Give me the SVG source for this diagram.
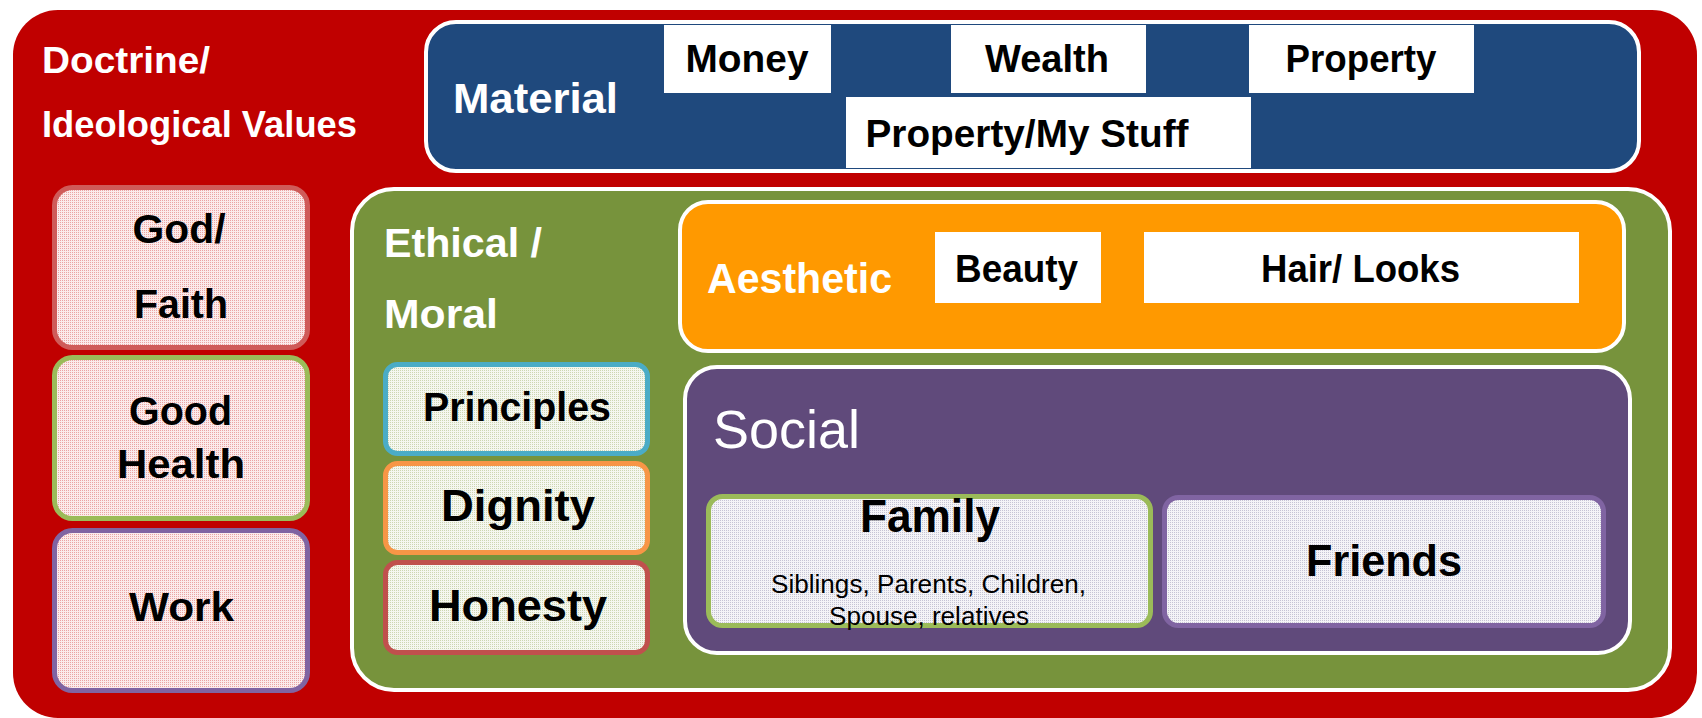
<svg xmlns="http://www.w3.org/2000/svg" width="1702" height="718" viewBox="0 0 1702 718">
<defs>
<pattern id="pinkDots" width="2" height="2" patternUnits="userSpaceOnUse"><rect width="2" height="2" fill="#FBEBEB"/><rect width="1" height="1" fill="#EBA3A3"/></pattern>
<pattern id="greenDots" width="2" height="2" patternUnits="userSpaceOnUse"><rect width="2" height="2" fill="#F5F7F0"/><rect width="1" height="1" fill="#CDD6B2"/></pattern>
<pattern id="lavDots" width="2" height="2" patternUnits="userSpaceOnUse"><rect width="2" height="2" fill="#F4F4F7"/><rect width="1" height="1" fill="#C6C3D4"/></pattern>
</defs>
<style>
.t{font-family:"Liberation Sans",Arial,sans-serif;font-weight:bold;}
.w{fill:#FFFFFF;}
.k{fill:#000000;}
.c{text-anchor:middle;}
.cont{stroke:#FFFFFF;stroke-width:4;}
.wb{fill:#FFFFFF;}
.pink{fill:url(#pinkDots);stroke-width:5;}
.grn{fill:url(#greenDots);stroke-width:5;}
.lav{fill:url(#lavDots);stroke-width:5;}
.reg{font-family:"Liberation Sans",Arial,sans-serif;font-weight:normal;}
</style>
<g id="doctrine">
<rect x="13" y="10" width="1684" height="708" rx="45" fill="#C00000"/>
<text class="t w" x="42" y="73" font-size="37" textLength="168" lengthAdjust="spacingAndGlyphs">Doctrine/</text>
<text class="t w" x="42" y="137" font-size="37" textLength="315" lengthAdjust="spacingAndGlyphs">Ideological Values</text>
</g>
<g id="material">
<rect class="cont" x="426" y="22" width="1213" height="149" rx="30" fill="#1F497D"/>
<text class="t w" x="453" y="113" font-size="43" textLength="165" lengthAdjust="spacingAndGlyphs">Material</text>
</g>
<g id="money">
<rect class="wb" x="664" y="25" width="167" height="68"/>
<text class="t k c" x="747" y="72" font-size="38" textLength="123" lengthAdjust="spacingAndGlyphs">Money</text>
</g>
<g id="wealth">
<rect class="wb" x="951" y="25" width="195" height="68"/>
<text class="t k c" x="1047" y="72" font-size="38" textLength="124" lengthAdjust="spacingAndGlyphs">Wealth</text>
</g>
<g id="property">
<rect class="wb" x="1249" y="25" width="225" height="68"/>
<text class="t k c" x="1361" y="72" font-size="38" textLength="151" lengthAdjust="spacingAndGlyphs">Property</text>
</g>
<g id="property-my-stuff">
<rect class="wb" x="846" y="97" width="405" height="71"/>
<text class="t k c" x="1027" y="147" font-size="38" textLength="323" lengthAdjust="spacingAndGlyphs">Property/My Stuff</text>
</g>
<g id="god-faith">
<rect class="pink" x="54.5" y="187.5" width="253" height="160" rx="18" stroke="#CF5B59"/>
<text class="t k c" x="179" y="243" font-size="40" textLength="93" lengthAdjust="spacingAndGlyphs">God/</text>
<text class="t k c" x="181" y="318" font-size="40" textLength="94" lengthAdjust="spacingAndGlyphs">Faith</text>
</g>
<g id="good-health">
<rect class="pink" x="54.5" y="357.5" width="253" height="161" rx="18" stroke="#9BBB59"/>
<text class="t k c" x="180.5" y="425" font-size="41" textLength="103" lengthAdjust="spacingAndGlyphs">Good</text>
<text class="t k c" x="181" y="478" font-size="41" textLength="128" lengthAdjust="spacingAndGlyphs">Health</text>
</g>
<g id="work">
<rect class="pink" x="54.5" y="530.5" width="253" height="160" rx="18" stroke="#8064A2"/>
<text class="t k c" x="181.5" y="621" font-size="41" textLength="105" lengthAdjust="spacingAndGlyphs">Work</text>
</g>
<g id="ethical">
<rect class="cont" x="352" y="189" width="1318" height="501" rx="42" fill="#77933C"/>
<text class="t w" x="384" y="257" font-size="40" textLength="158" lengthAdjust="spacingAndGlyphs">Ethical /</text>
<text class="t w" x="384" y="328" font-size="41" textLength="114" lengthAdjust="spacingAndGlyphs">Moral</text>
</g>
<g id="principles">
<rect class="grn" x="385.5" y="364.5" width="262" height="89" rx="12" stroke="#4BACC6"/>
<text class="t k c" x="517" y="421" font-size="41" textLength="188" lengthAdjust="spacingAndGlyphs">Principles</text>
</g>
<g id="dignity">
<rect class="grn" x="385.5" y="463.5" width="262" height="89" rx="12" stroke="#F79646"/>
<text class="t k c" x="518" y="521" font-size="44" textLength="154" lengthAdjust="spacingAndGlyphs">Dignity</text>
</g>
<g id="honesty">
<rect class="grn" x="385.5" y="562.5" width="262" height="90" rx="12" stroke="#C0504D"/>
<text class="t k c" x="518" y="621" font-size="44" textLength="178" lengthAdjust="spacingAndGlyphs">Honesty</text>
</g>
<g id="aesthetic">
<rect class="cont" x="680" y="202" width="944" height="149" rx="28" fill="#FF9900"/>
<text class="t w" x="707" y="293" font-size="42" textLength="185" lengthAdjust="spacingAndGlyphs">Aesthetic</text>
</g>
<g id="beauty">
<rect class="wb" x="935" y="232" width="166" height="71"/>
<text class="t k c" x="1016.5" y="282" font-size="38" textLength="123" lengthAdjust="spacingAndGlyphs">Beauty</text>
</g>
<g id="hair-looks">
<rect class="wb" x="1144" y="232" width="435" height="71"/>
<text class="t k c" x="1360.5" y="282" font-size="38" textLength="199" lengthAdjust="spacingAndGlyphs">Hair/ Looks</text>
</g>
<g id="social">
<rect class="cont" x="685" y="367" width="945" height="286" rx="32" fill="#604A7B"/>
<text class="reg w" x="713" y="448" font-size="54" textLength="147" lengthAdjust="spacingAndGlyphs">Social</text>
</g>
<g id="family">
<rect class="lav" x="708.5" y="496.5" width="442" height="129" rx="14" stroke="#9BBB59"/>
<text class="t k c" x="930" y="532" font-size="46" textLength="140" lengthAdjust="spacingAndGlyphs">Family</text>
<text class="reg k c" x="928.5" y="593" font-size="26" textLength="315" lengthAdjust="spacingAndGlyphs">Siblings, Parents, Children,</text>
<text class="reg k c" x="929" y="625" font-size="26" textLength="200" lengthAdjust="spacingAndGlyphs">Spouse, relatives</text>
</g>
<g id="friends">
<rect class="lav" x="1164.5" y="497.5" width="439" height="128" rx="14" stroke="#8064A2"/>
<text class="t k c" x="1384" y="576" font-size="45" textLength="156" lengthAdjust="spacingAndGlyphs">Friends</text>
</g>
<g id="connectors"/>
</svg>
